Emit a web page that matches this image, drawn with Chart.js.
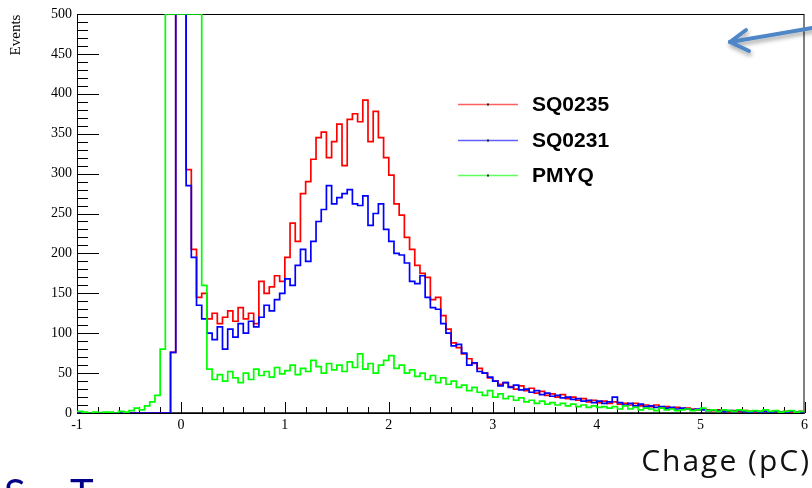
<!DOCTYPE html>
<html>
<head>
<meta charset="utf-8">
<script src="https://cdn.jsdelivr.net/npm/chart.js@4"></script>
<style>
  body { margin: 0; background: #fff; }
  #wrap { position: relative; width: 812px; height: 488px; overflow: hidden; background: #fff; }
  #c { position: absolute; left: 0; top: 0; }
  .note { position: absolute; white-space: nowrap; }
</style>
</head>
<body>
<div id="wrap">
  <canvas id="c" width="812" height="488"></canvas>
  <svg class="note" style="left:0;top:0" width="812" height="488">
    <defs>
      <filter id="sh" x="-20%" y="-50%" width="140%" height="200%">
        <feDropShadow dx="1" dy="3" stdDeviation="2" flood-color="#000" flood-opacity="0.35"/>
      </filter>
    </defs>
    <g stroke="#4f86c6" stroke-width="4" stroke-linecap="round" fill="none" filter="url(#sh)">
      <line x1="818" y1="27" x2="730" y2="42"/>
      <line x1="730" y1="42" x2="746" y2="30"/>
      <line x1="730" y1="42" x2="749" y2="51"/>
    </g>
  </svg>
  <div class="note" style="right:1px;top:439px;font-family:'Open Sans',sans-serif;font-size:30px;letter-spacing:2px;color:#111;">Chage (pC)</div>
  <div class="note" style="left:4px;top:469px;font-family:Lato,sans-serif;font-size:40px;color:#00008b;">S</div>
  <div class="note" style="left:70px;top:469px;font-family:Lato,sans-serif;font-size:40px;color:#00008b;">T</div>
</div>
<script>
// histogram binning (pC)
const binLow = -1;
const binWidth = 0.05;
const xTicks = [-1, 0, 1, 2, 3, 4, 5, 6];
const yTicks = [0, 50, 100, 150, 200, 250, 300, 350, 400, 450, 500];

const seriesNames = ["SQ0235", "SQ0231", "PMYQ"];
const seriesColors = ["#ff0000", "#0000ff", "#00ff00"];
const legendColors = ["#ff5f5f", "#5f5fff", "#5fff5f"];

// counts per bin (500 = off scale)
const sq0235 = [
  0, 0, 0, 0, 0, 0, 0, 0, 0, 0,
  0, 0, 0, 0, 0, 0, 0, 0, 76, 500,
  500, 305, 205, 145, 150, 118, 125, 112, 120, 128,
  115, 132, 118, 125, 112, 165, 150, 158, 172, 165,
  195, 238, 215, 275, 290, 318, 345, 352, 320, 340,
  362, 310, 368, 375, 365, 392, 340, 378, 345, 320,
  298, 262, 248, 220, 205, 185, 175, 170, 142, 145,
  122, 105, 88, 82, 74, 68, 62, 56, 50, 44,
  40, 36, 38, 33, 30, 34, 28, 31, 25, 27,
  22, 24, 20, 23, 18, 20, 16, 18, 14, 16,
  13, 15, 12, 14, 11, 12, 10, 12, 9, 10,
  8, 10, 7, 8, 6, 7, 5, 6, 5, 4,
  5, 4, 3, 4, 3, 2, 3, 2, 3, 2,
  1, 2, 2, 1, 2, 1, 2, 1, 1, 2
];
const sq0231 = [
  0, 0, 0, 0, 0, 0, 0, 0, 0, 0,
  0, 0, 0, 0, 0, 0, 0, 0, 76, 500,
  500, 285, 195, 135, 118, 100, 92, 108, 80, 105,
  95, 112, 100, 115, 108, 120, 135, 128, 142, 150,
  168, 160, 185, 205, 190, 215, 240, 255, 285, 262,
  270, 275, 280, 262, 260, 272, 235, 250, 262, 230,
  215, 200, 198, 188, 165, 162, 172, 145, 132, 130,
  112, 100, 84, 86, 75, 60, 63, 52, 50, 45,
  40, 34, 38, 32, 35, 29, 30, 26, 28, 23,
  25, 21, 22, 19, 20, 17, 18, 15, 16, 13,
  15, 12, 14, 20, 13, 10, 12, 9, 11, 8,
  9, 7, 8, 6, 7, 5, 6, 5, 4, 5,
  4, 3, 4, 3, 2, 3, 2, 3, 2, 1,
  2, 1, 2, 1, 2, 1, 1, 2, 1, 1
];
const pmyq = [
  2, 1, 0, 1, 0, 1, 1, 0, 2, 1,
  3, 6, 4, 9, 14, 22, 80, 500, 500, 500,
  500, 500, 500, 500, 160, 55, 42, 48, 40, 52,
  44, 38, 50, 42, 55, 47, 52, 45, 57, 49,
  53, 60, 48, 56, 52, 66, 58, 50, 62, 54,
  60, 52, 64, 57, 74, 55, 62, 50, 60, 66,
  72, 56, 60, 50, 54, 46, 50, 42, 47, 38,
  44, 36, 40, 32, 35, 28, 32, 26, 22, 28,
  20, 24, 18, 21, 16, 19, 14, 16, 12, 15,
  11, 13, 10, 12, 9, 11, 8, 10, 7, 9,
  7, 8, 6, 8, 5, 9, 5, 7, 4, 6,
  5, 3, 6, 4, 5, 3, 4, 5, 3, 4,
  6, 3, 4, 2, 4, 3, 2, 4, 3, 2,
  3, 2, 4, 2, 3, 1, 2, 3, 1, 2
];

// step points: one per bin low edge, plus the closing edge
function histPoints(counts) {
  const pts = counts.map((v, i) => ({ x: binLow + i * binWidth, y: v }));
  pts.push({ x: binLow + counts.length * binWidth, y: counts[counts.length - 1] });
  return pts;
}

const allSeries = [sq0235, sq0231, pmyq];
const serif = "'Liberation Serif', 'DejaVu Serif', serif";

const rootFrame = {
  id: "rootFrame",
  beforeDatasetsDraw(chart) {
    const { ctx, chartArea: a, scales } = chart;
    const x = scales.x, y = scales.y;
    ctx.save();
    ctx.strokeStyle = "#000";
    ctx.lineWidth = 1;
    ctx.strokeRect(a.left + 0.5, a.top + 0.5, a.right - a.left - 1, a.bottom - a.top);
    ctx.lineWidth = 1.6;
    ctx.beginPath();
    ctx.moveTo(a.left, a.bottom);
    ctx.lineTo(a.right, a.bottom);
    ctx.stroke();
    ctx.lineWidth = 1;
    ctx.beginPath();
    for (let v = 0; v <= 500; v += 10) {
      const py = Math.round(y.getPixelForValue(v)) + 0.5;
      const len = v % 50 === 0 ? 22 : 11;
      ctx.moveTo(a.left, py);
      ctx.lineTo(a.left + len, py);
    }
    for (let k = 0; k <= 35; k++) {
      const px = Math.round(x.getPixelForValue(-1 + k * 0.2)) + 0.5;
      const len = k % 5 === 0 ? 11 : 6;
      ctx.moveTo(px, a.bottom);
      ctx.lineTo(px, a.bottom - len);
    }
    ctx.stroke();
    ctx.restore();
  },
  afterDraw(chart) {
    const { ctx } = chart;
    ctx.save();
    // y title, top aligned like ROOT
    ctx.translate(16, 35);
    ctx.rotate(-Math.PI / 2);
    ctx.fillStyle = "#000";
    ctx.font = "15px " + serif;
    ctx.textAlign = "center";
    ctx.textBaseline = "middle";
    ctx.fillText("Events", 0, 0);
    ctx.restore();

    // legend
    const rows = [104, 140, 175];
    ctx.save();
    ctx.font = "bold 21px 'Liberation Sans', Arial, sans-serif";
    ctx.textBaseline = "middle";
    seriesNames.forEach((name, i) => {
      const ly = rows[i] + 0.5;
      ctx.strokeStyle = legendColors[i];
      ctx.lineWidth = 1.5;
      ctx.beginPath();
      ctx.moveTo(458, ly);
      ctx.lineTo(518, ly);
      ctx.stroke();
      ctx.fillStyle = "#222";
      ctx.fillRect(487, ly - 1, 2, 2);
      ctx.fillStyle = "#000";
      ctx.fillText(name, 532, ly + 1);
    });
    ctx.restore();
  }
};

new Chart(document.getElementById("c"), {
  type: "line",
  data: {
    datasets: allSeries.map((counts, i) => ({
      label: seriesNames[i],
      data: histPoints(counts),
      borderColor: seriesColors[i],
      backgroundColor: seriesColors[i],
      borderWidth: 1.7,
      pointRadius: 0,
      stepped: "before",
      fill: false,
      order: 2 - i,
    })),
  },
  options: {
    responsive: false,
    animation: false,
    events: [],
    layout: { padding: { top: 14, right: 5, left: 0, bottom: 0 } },
    plugins: { legend: { display: false }, tooltip: { enabled: false } },
    scales: {
      x: {
        type: "linear",
        min: -1,
        max: 6,
        afterFit: (s) => { s.height = 75; },
        afterBuildTicks: (s) => { s.ticks = xTicks.map((v) => ({ value: v })); },
        grid: { display: false, drawTicks: false, tickLength: 0 },
        border: { display: false },
        ticks: { color: "#000", font: { family: serif, size: 14 }, padding: 4, maxRotation: 0 },
      },
      y: {
        type: "linear",
        min: 0,
        max: 500,
        afterFit: (s) => { s.width = 77; },
        afterBuildTicks: (s) => { s.ticks = yTicks.map((v) => ({ value: v })); },
        grid: { display: false, drawTicks: false, tickLength: 0 },
        border: { display: false },
        ticks: { color: "#000", font: { family: serif, size: 14 }, padding: 5 },
      },
    },
  },
  plugins: [rootFrame],
});
</script>
</body>
</html>
